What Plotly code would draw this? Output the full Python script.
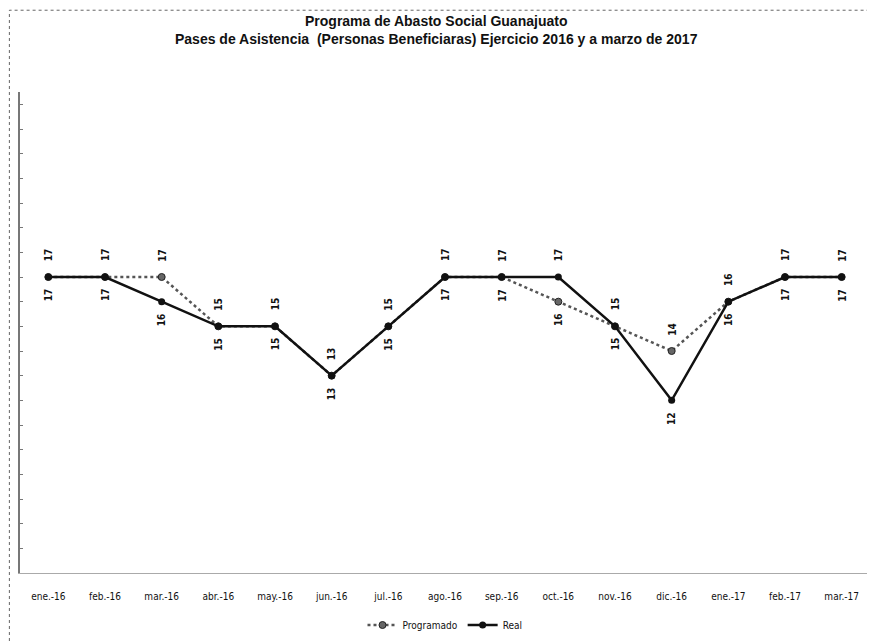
import plotly.graph_objects as go

categories = ["ene.-16", "feb.-16", "mar.-16", "abr.-16", "may.-16", "jun.-16", "jul.-16",
              "ago.-16", "sep.-16", "oct.-16", "nov.-16", "dic.-16", "ene.-17", "feb.-17", "mar.-17"]
programado = [17, 17, 17, 15, 15, 13, 15, 17, 17, 16, 15, 14, 16, 17, 17]
real = [17, 17, 16, 15, 15, 13, 15, 17, 17, 17, 15, 12, 16, 17, 17]

FONT = "DejaVu Sans Condensed, Liberation Sans, Arial"
TFONT = "Liberation Sans, Arial"

fig = go.Figure()
fig.add_trace(go.Scatter(
    x=categories, y=programado, name="Programado", mode="lines+markers",
    line=dict(color="#555555", width=2.5, dash="dot"),
    marker=dict(symbol="circle", size=7, color="#666666", line=dict(color="#222222", width=1)),
))
fig.add_trace(go.Scatter(
    x=categories, y=real, name="Real", mode="lines+markers",
    line=dict(color="#111111", width=2.5),
    marker=dict(symbol="circle", size=7, color="#111111"),
))

annotations = []
for c, p, r in zip(categories, programado, real):
    p_up = p >= r
    annotations.append(dict(x=c, y=p, text="<b>%d</b>" % p, showarrow=False, textangle=-90,
                            yshift=22 if p_up else -18,
                            font=dict(family=FONT, size=10, color="#111111")))
    annotations.append(dict(x=c, y=r, text="<b>%d</b>" % r, showarrow=False, textangle=-90,
                            yshift=-18 if p_up else 22,
                            font=dict(family=FONT, size=10, color="#111111")))

annotations.append(dict(
    xref="paper", yref="paper", x=0.49, y=1.0, yshift=81, xanchor="center", yanchor="top",
    showarrow=False, align="center",
    text="<b>Programa de Abasto Social Guanajuato<br>Pases de Asistencia  (Personas Beneficiaras) Ejercicio 2016 y a marzo de 2017</b>",
    font=dict(family=TFONT, size=14, color="#111111"),
))

fig.update_layout(
    width=875, height=643,
    margin=dict(l=12, r=13, t=84, b=71),
    paper_bgcolor="white", plot_bgcolor="white",
    xaxis=dict(
        showgrid=False, showline=True, linecolor="#aaaaaa", linewidth=1, automargin=False,
        ticks="", ticklabelstandoff=14, tickfont=dict(family=FONT, size=10, color="#111111"),
        range=[-0.5, 14.5], fixedrange=True,
    ),
    yaxis=dict(
        range=[5, 24.5], showgrid=False, showline=True, linecolor="#777777", linewidth=2,
        showticklabels=False, ticks="inside", ticklen=3, dtick=1, tickcolor="#777777",
        zeroline=False, automargin=False,
    ),
    legend=dict(
        orientation="h", x=0.5, xanchor="center", y=-0.078, yanchor="top",
        font=dict(family=FONT, size=10, color="#111111"),
    ),
    annotations=annotations,
    shapes=[dict(type="rect", xref="paper", yref="paper", x0=-0.0125, x1=1.02, y0=-0.2, y1=1.17,
                 line=dict(color="#666666", width=1, dash="dot"))],
)

fig.write_html("out.html")
